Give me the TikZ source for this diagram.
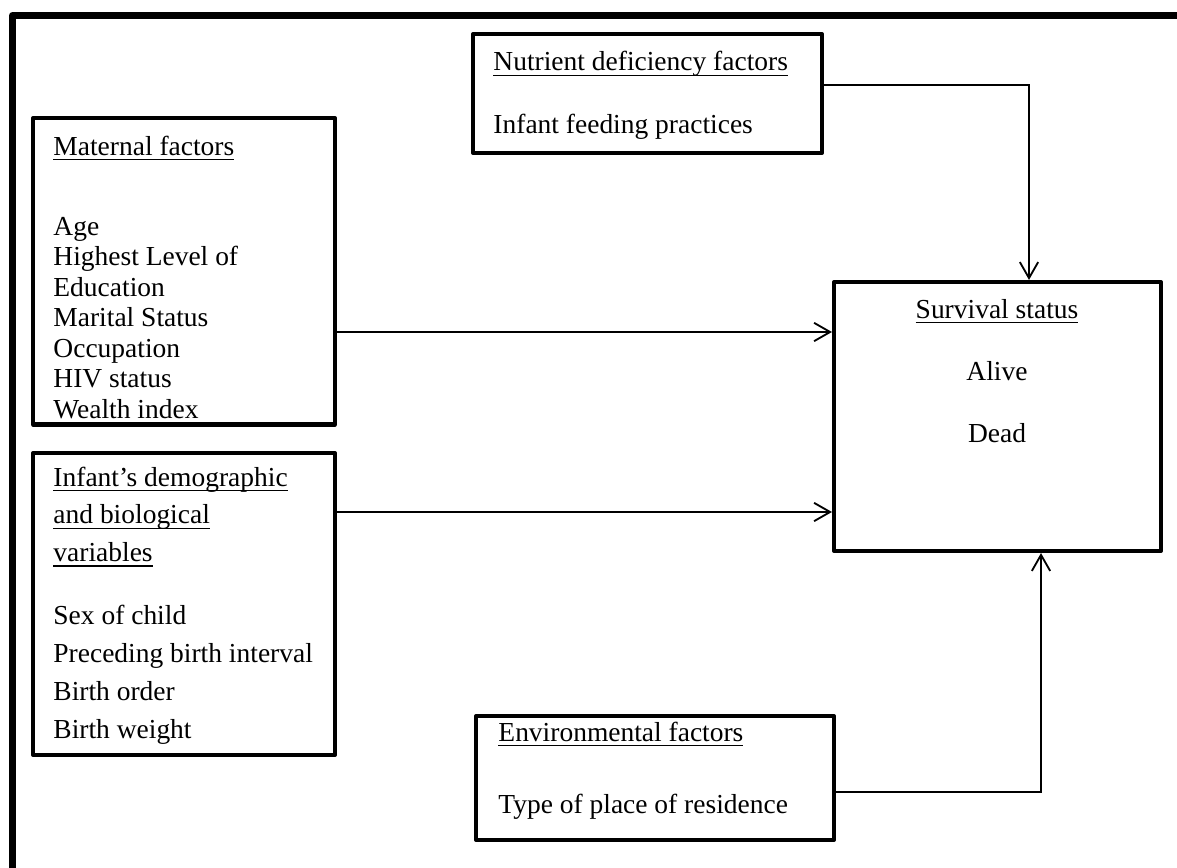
\documentclass[tikz,border=0pt]{standalone}
\usepackage{fontspec}
\setmainfont{Liberation Serif}
\usepackage{tikz}
\usetikzlibrary{arrows.meta, fit}
% underline at a fixed depth
\newcommand{\uln}[1]{\setbox0\hbox{#1}\rlap{\rule[-2.2pt]{\wd0}{0.6pt}}\box0}

\begin{document}
\begin{tikzpicture}[x=0.4367pt, y=-0.4367pt,
    box/.style={draw, line width=1.8pt, line join=round, inner sep=0pt},
    txt/.style={anchor=base west, align=left, inner sep=0pt, font=\fontsize{12}{13.3}\selectfont},
    conn/.style={line width=0.8pt, -{Straight Barb[length=7pt, width=8pt, line width=0.8pt]}}]
    \useasboundingbox (0,0) rectangle (1177,867);
    % outer frame, only top and left sides show
    \draw[line width=3pt, line join=round] (12.5,900) -- (12.5,15.5) -- (1200,15.5);
    % boxes
    \node[box, fit={(33,118) (335,424.5)}] (maternal) {};
    \node[box, fit={(33,453) (335,755)}] (infant) {};
    \node[box, fit={(473,34) (822,153)}] (nutrient) {};
    \node[box, fit={(834,282) (1161,551)}] (survival) {};
    \node[box, fit={(476,716) (834,840)}] (environ) {};
    % texts, placed at the baseline of their last line
    \node[txt] (mattxt) at (53,418) {\uln{Maternal factors}\\[21.6pt]
        Age\\ Highest Level of\\ Education\\ Marital Status\\ Occupation\\ HIV status\\ Wealth index};
    \node[txt, font=\fontsize{12}{16.5}\selectfont] (inftxt) at (53,738) {\uln{Infant’s demographic}\\
        \uln{and biological}\\ \uln{variables}\\[11pt]
        Sex of child\\ Preceding birth interval\\ Birth order\\ Birth weight};
    \node[txt] (nuttxt) at (493,133) {\uln{Nutrient deficiency factors}\\[13.8pt] Infant feeding practices};
    \node[txt] (envtxt) at (498,813) {\uln{Environmental factors}\\[18.1pt] Type of place of residence};
    \node[txt, anchor=base, align=center] (survtxt) at (997,442) {\uln{Survival status}\\[13.7pt] Alive\\[13.7pt] Dead};
    % connectors
    \draw[conn] (maternal.east |- 0,332) -- (survival.west |- 0,332);
    \draw[conn] (infant.east |- 0,512) -- (survival.west |- 0,512);
    \draw[conn] (nutrient.east |- 0,85) -| (1029,0 |- survival.north);
    \draw[conn] (environ.east |- 0,792) -| (1041,0 |- survival.south);
\end{tikzpicture}
\end{document}
